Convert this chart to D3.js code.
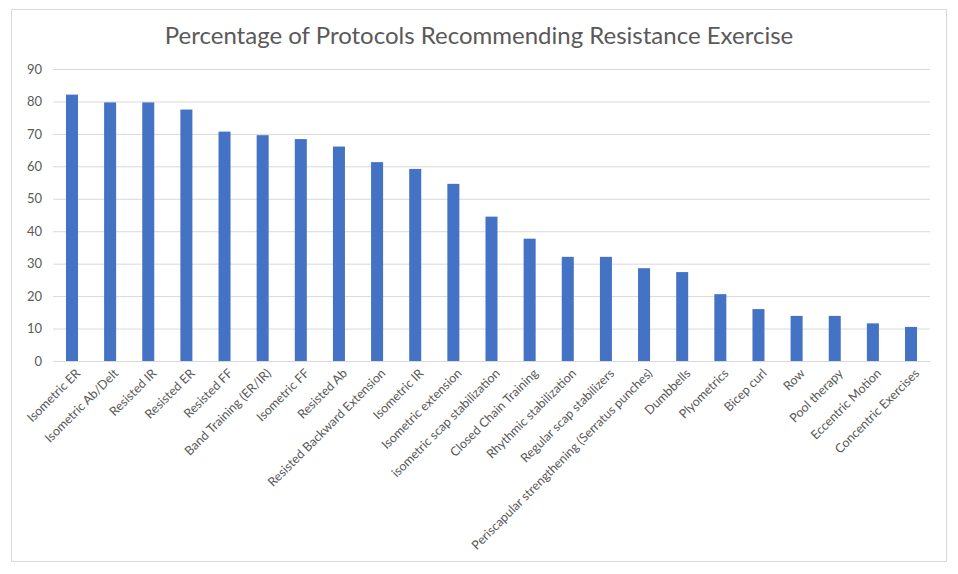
<!DOCTYPE html>
<html><head><meta charset="utf-8">
<script src="https://cdn.jsdelivr.net/npm/d3@7"></script>
<style>body{margin:0;background:#fff}</style>
</head><body>
<svg id="c" width="958" height="574"></svg>
<script>
const categories = ["Isometric ER","Isometric Ab/Delt","Resisted IR","Resisted ER","Resisted FF","Band Training (ER/IR)","Isometric FF","Resisted Ab","Resisted Backward Extension","Isometric IR","Isometric extension","isometric scap stabilization","Closed Chain Training","Rhythmic stabilization","Regular scap stabilizers","Periscapular strengthening (Serratus punches)","Dumbbells","Plyometrics","Bicep curl","Row","Pool therapy","Eccentric Motion","Concentric Exercises"];
const values = [82.1,79.7,79.7,77.5,70.7,69.6,68.4,66.1,61.3,59.2,54.6,44.5,37.7,32.1,32.1,28.6,27.4,20.6,16.0,13.9,13.9,11.6,10.5];
const yTicks = [0,10,20,30,40,50,60,70,80,90];
const title = "Percentage of Protocols Recommending Resistance Exercise";

const svg = d3.select("#c");
const font = "Lato, 'Open Sans', sans-serif";
const m = {l:53, r:958-930, t:69, b:574-361};
const W = 958, H = 574;

svg.append("rect").attr("x",11.5).attr("y",9.5).attr("width",935).attr("height",552)
  .attr("fill","#fff").attr("stroke","#d9d9d9");

const x = d3.scaleBand().domain(categories).range([m.l, W-m.r]).paddingInner(0.685).paddingOuter(0.34);
const y = d3.scaleLinear().domain([0,90]).range([H-m.b, m.t]);

const gy = svg.append("g").attr("transform",`translate(${m.l},0)`)
  .call(d3.axisLeft(y).tickValues(yTicks).tickSize(-(W-m.l-m.r)).tickPadding(11));
gy.select(".domain").remove();
gy.selectAll(".tick line").attr("stroke","#d9d9d9").attr("stroke-width",1);
gy.selectAll(".tick text").attr("fill","#595959").style("font-family",font).style("font-size","13px");

svg.append("g").selectAll("rect").data(values).join("rect")
  .attr("x",(d,i)=>x(categories[i])).attr("width",x.bandwidth())
  .attr("y",d=>y(d)).attr("height",d=>y(0)-y(d)).attr("fill","#4472c4");

const gx = svg.append("g").attr("transform",`translate(0,${H-m.b})`)
  .call(d3.axisBottom(x).tickSize(0).tickPadding(0));
gx.select(".domain").attr("stroke","#d9d9d9");
gx.selectAll(".tick text").attr("fill","#595959").style("font-family",font).style("font-size","12.5px")
  .attr("text-anchor","end").attr("dy","0.35em")
  .attr("transform","translate(6,10) rotate(-45)");

svg.append("text").attr("x",479).attr("y",44).attr("text-anchor","middle")
  .attr("fill","#595959").style("font-family",font).style("font-size","24px").text(title);
</script>
</body></html>
